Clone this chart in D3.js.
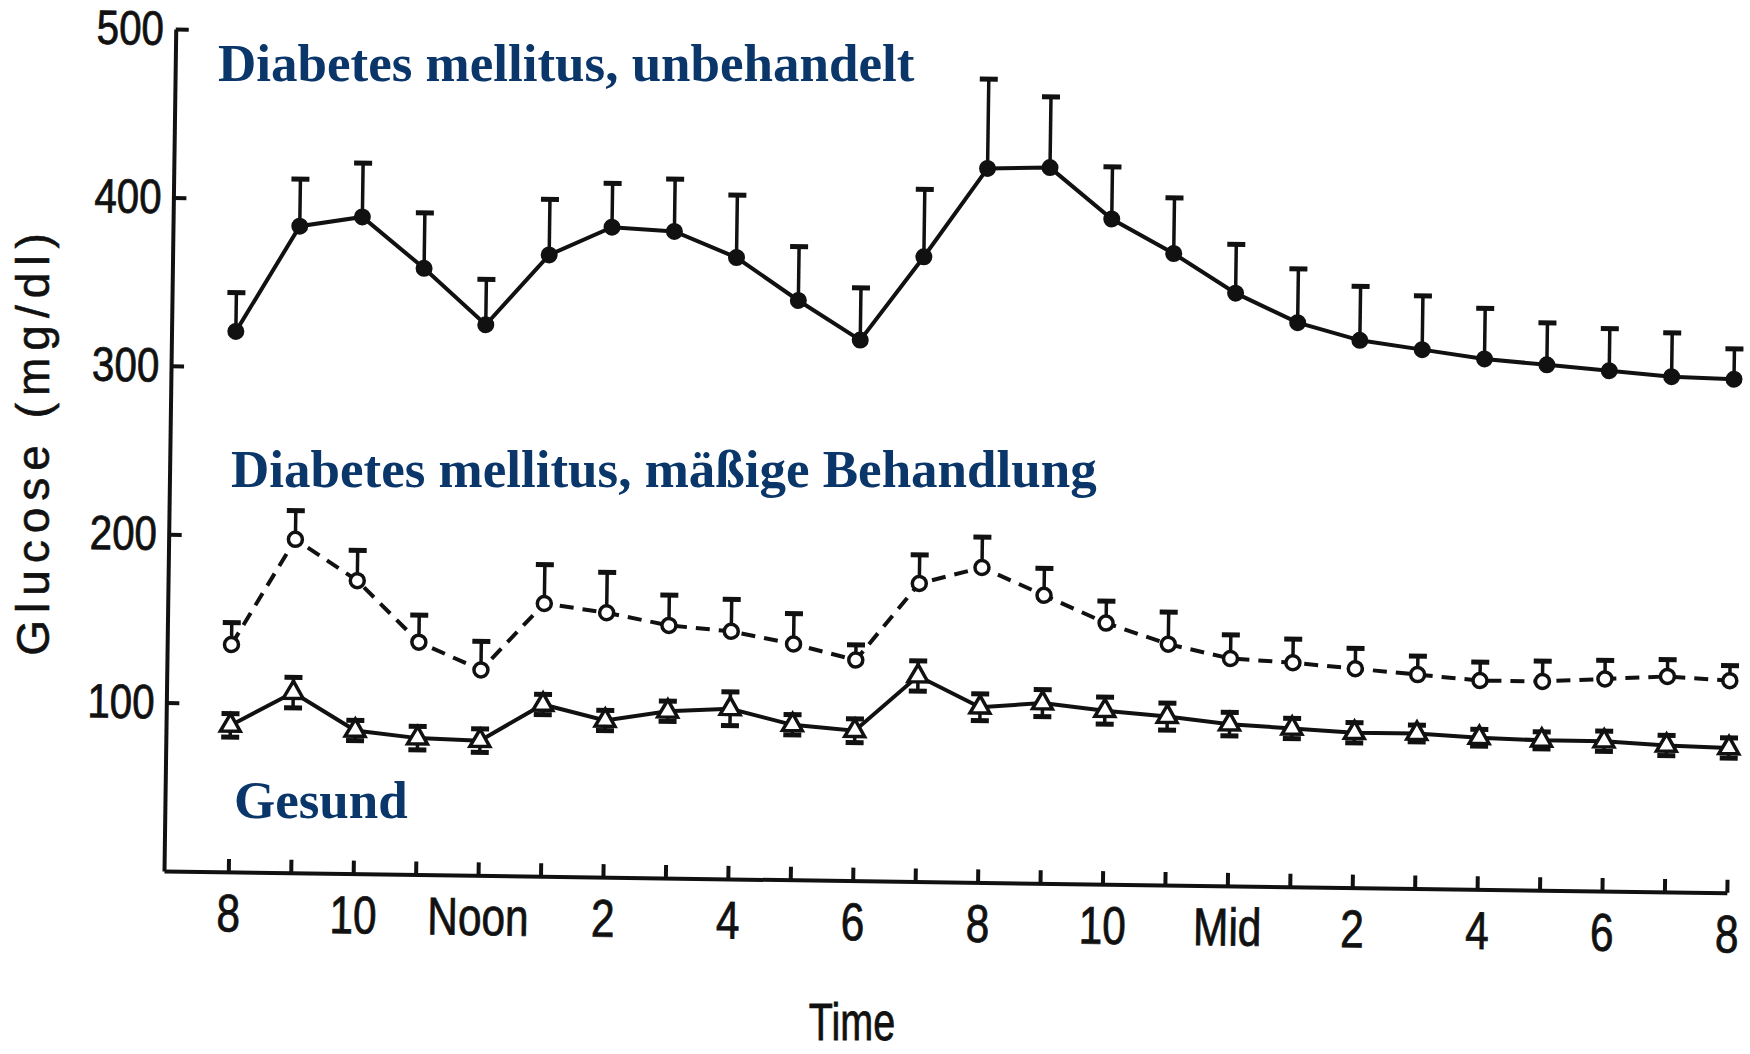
<!DOCTYPE html>
<html>
<head>
<meta charset="utf-8">
<script src="https://cdn.jsdelivr.net/npm/d3@7"></script>
<style>
  body { margin: 0; background: #fff; }
  svg { display: block; background: #fff; }
</style>
</head>
<body>
<svg id="chart" width="1750" height="1054"></svg>
<script>
// one reading per hour, 8 am to 8 am next day
var hours = d3.range(0, 25);
var tickLabels = ["8","","10","","Noon","","2","","4","","6","","8","","10","","Mid","","2","","4","","6","","8"];
var yTicks = [100, 200, 300, 400, 500];

// glucose (mg/dl), mean and SE
var untreated   = [321,384,390,360,327,369,386,384,369,344,321,371,424,425,395,375,352,335,325,320,315,312,309,306,305];
var untreatedSE = [23,28,32,33,27,33,26,31,37,32,31,40,53,42,31,33,29,32,32,32,30,25,25,26,18];
var moderate    = [135,198,174,138,122,162,157,150,147,140,131,177,187,171,155,143,135,133,130,127,124,124,126,128,126];
var moderateSE  = [13,17,18,16,17,23,24,18,19,18,9,17,18,16,13,19,14,14,12,11,11,12,11,10,9];
var healthy     = [87,107,85,81,80,102,93,99,101,92,89,122,104,107,103,100,96,94,92,92,90,89,89,87,86];
var healthySE   = [7,9,6,7,7,6,6,6,10,6,7,9,8,8,8,8,7,6,6,5,5,5,6,6,6];

var seriesNames = ["Diabetes mellitus, unbehandelt", "Diabetes mellitus, mäßige Behandlung", "Gesund"];

var series = [
  {values: untreated, se: untreatedSE, marker: "dot",      dash: null,   both: false},
  {values: moderate,  se: moderateSE,  marker: "circle",   dash: "14,9", both: false},
  {values: healthy,   se: healthySE,   marker: "triangle", dash: null,   both: true}
];

var svg = d3.select("#chart");
var W = 1563, H = 842;

var x = d3.scaleLinear().domain([-1.03, 24]).range([0, W]);
var y = d3.scaleLinear().domain([0, 500]).range([0, -H]);

// the scanned original is a little tilted
var g = svg.append("g").attr("transform", "translate(164,871) rotate(0.8)");

var yAxis = g.append("g")
  .call(d3.axisLeft(y).tickValues(yTicks).tickSizeInner(-13).tickSizeOuter(0).tickPadding(14));

var xAxis = g.append("g")
  .call(d3.axisBottom(x).tickValues(hours)
    .tickFormat(function(d, i) { return tickLabels[i]; })
    .tickSizeInner(-13).tickSizeOuter(0).tickPadding(22));

[yAxis, xAxis].forEach(function(a) {
  a.attr("font-family", "'Liberation Sans', Arial, sans-serif");
  a.selectAll("path, line").attr("stroke", "#111").attr("stroke-width", 4);
  a.selectAll("text").attr("fill", "#111").attr("stroke", "#111").attr("stroke-width", 0.8);
});
yAxis.attr("font-size", 48);
yAxis.selectAll("text").attr("transform", "scale(0.84,1)");
xAxis.attr("font-size", 53);
xAxis.selectAll("text").attr("transform", "scale(0.8,1)");

var line = d3.line()
  .x(function(d, i) { return x(i); })
  .y(function(d) { return y(d); });

series.forEach(function(s) {
  var sg = g.append("g");

  sg.append("path")
    .datum(s.values)
    .attr("d", line)
    .attr("fill", "none")
    .attr("stroke", "#111")
    .attr("stroke-width", 4)
    .attr("stroke-dasharray", s.dash);

  var bars = sg.selectAll(".err").data(s.values).enter().append("g").attr("class", "err")
    .attr("stroke", "#111");

  bars.append("line")
    .attr("x1", function(d, i) { return x(i); })
    .attr("x2", function(d, i) { return x(i); })
    .attr("y1", function(d, i) { return s.both ? y(d - s.se[i]) : y(d); })
    .attr("y2", function(d, i) { return y(d + s.se[i]); })
    .attr("stroke-width", 3.5);

  bars.append("line")
    .attr("x1", function(d, i) { return x(i) - 9; })
    .attr("x2", function(d, i) { return x(i) + 9; })
    .attr("y1", function(d, i) { return y(d + s.se[i]); })
    .attr("y2", function(d, i) { return y(d + s.se[i]); })
    .attr("stroke-width", 5);

  if (s.both) {
    bars.append("line")
      .attr("x1", function(d, i) { return x(i) - 9; })
      .attr("x2", function(d, i) { return x(i) + 9; })
      .attr("y1", function(d, i) { return y(d - s.se[i]); })
      .attr("y2", function(d, i) { return y(d - s.se[i]); })
      .attr("stroke-width", 5);
  }

  var pts = sg.selectAll(".pt").data(s.values).enter();
  if (s.marker == "dot") {
    pts.append("circle")
      .attr("cx", function(d, i) { return x(i); })
      .attr("cy", function(d) { return y(d); })
      .attr("r", 8.5)
      .attr("fill", "#111");
  } else if (s.marker == "circle") {
    pts.append("circle")
      .attr("cx", function(d, i) { return x(i); })
      .attr("cy", function(d) { return y(d); })
      .attr("r", 7)
      .attr("fill", "#fff")
      .attr("stroke", "#111")
      .attr("stroke-width", 3.5);
  } else {
    pts.append("path")
      .attr("d", d3.symbol(d3.symbolTriangle).size(170))
      .attr("transform", function(d, i) { return "translate(" + x(i) + "," + y(d) + ")"; })
      .attr("fill", "#fff")
      .attr("stroke", "#111")
      .attr("stroke-width", 3.5);
  }
});

// axis titles
svg.append("text")
  .attr("transform", "translate(852,1040) scale(0.76,1)")
  .attr("text-anchor", "middle")
  .attr("font-family", "'Liberation Sans', Arial, sans-serif")
  .attr("font-size", 52)
  .attr("fill", "#111")
  .attr("stroke", "#111")
  .attr("stroke-width", 0.8)
  .text("Time");

svg.append("text")
  .attr("transform", "translate(33,441) rotate(-90)")
  .attr("text-anchor", "middle")
  .attr("dominant-baseline", "central")
  .attr("font-family", "'Liberation Sans', Arial, sans-serif")
  .attr("font-size", 46)
  .attr("letter-spacing", 7)
  .attr("fill", "#111")
  .attr("stroke", "#111")
  .attr("stroke-width", 0.6)
  .text("Glucose (mg/dl)");

// series names, set over the chart in blue
var namePos = [[218, 81], [231, 487], [234, 818]];
svg.selectAll(".name").data(seriesNames).enter().append("text")
  .attr("class", "name")
  .attr("x", function(d, i) { return namePos[i][0]; })
  .attr("y", function(d, i) { return namePos[i][1]; })
  .attr("font-family", "'Liberation Serif', 'Times New Roman', serif")
  .attr("font-weight", "bold")
  .attr("font-size", 53)
  .attr("fill", "#0a3669")
  .text(function(d) { return d; });
</script>
</body>
</html>
